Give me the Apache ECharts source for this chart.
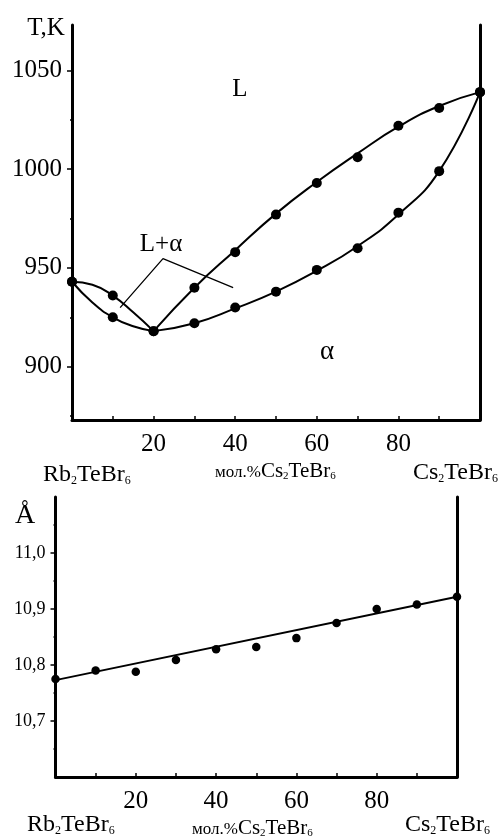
<!DOCTYPE html>
<html><head><meta charset="utf-8">
<script src="https://cdn.jsdelivr.net/npm/echarts@6/dist/echarts.min.js"></script>
<style>html,body{margin:0;padding:0;background:#fff}#c{width:500px;height:839px}</style>
</head><body><div id="c"></div>
<script>
// ---- data ----
const compositions = [0, 10, 20, 30, 40, 50, 60, 70, 80, 90, 100];
const liquidusT = [943, 936, 918, 940, 958, 977, 993, 1006, 1022, 1031, 1039];
const solidusT  = [943, 925, 918, 922, 930, 938, 949, 960, 978, 999, 1039];
// drawn curves
const curveLeftX  = [0, 5, 10, 15, 20];
const liqLeftT    = [943, 941.5, 936, 927.5, 918];
const solLeftT    = [943, 932.5, 925, 920.5, 918];
const curveRightX = [20, 30, 40, 50, 60, 70, 80, 90, 100];
const liqRightT   = [918, 940, 959, 977.5, 993.5, 1008, 1021.5, 1032, 1039];
const solRightT   = [918, 922, 929.5, 938, 948.5, 961, 977, 999, 1039];
// leader lines of the "L+α" label
const leaderX = [11.8, 22.3, 39.5];
const leaderT = [929.9, 954.7, 940];
// lattice parameter
const latticeA = [10.775, 10.790, 10.788, 10.809, 10.828, 10.832, 10.848, 10.875, 10.900, 10.908, 10.922];
const fitX = [0, 100];
const fitA = [10.773, 10.922];
// ticks
const xLabelTicks = [20, 40, 60, 80];
const tMajor = [900, 950, 1000, 1050];
const tMinor = [875, 925, 975, 1025];
const aMajor = [10.7, 10.8, 10.9, 11.0];
const aMinor = [10.65, 10.75, 10.85, 10.95, 11.05];

const FONT = "'Liberation Serif','Times New Roman',serif";
const zip = (xs, ys) => xs.map((x, i) => [x, ys[i]]);

const chart = echarts.init(document.getElementById('c'), null, {renderer: 'canvas'});

function xAxisCfg(gi) {
  return {
    type: 'value', gridIndex: gi, min: 0, max: 100, interval: 10,
    axisLine: {show: true, onZero: false, lineStyle: {color: '#000', width: 3}},
    axisTick: {show: true, inside: true, length: 4, lineStyle: {color: '#000', width: 1.5}},
    axisLabel: {customValues: xLabelTicks, color: '#000', fontFamily: FONT, fontSize: 25, margin: 12},
    splitLine: {show: false}
  };
}
function yAxisMajor(gi, min, max, vals, fmt, fs) {
  return {
    type: 'value', gridIndex: gi, min: min, max: max, position: 'left',
    axisLine: {show: true, lineStyle: {color: '#000', width: 3}},
    axisTick: {show: true, customValues: vals, length: 5, lineStyle: {color: '#000', width: 1.5}},
    axisLabel: {customValues: vals, formatter: fmt, color: '#000', fontFamily: FONT, fontSize: fs, margin: 10},
    splitLine: {show: false}
  };
}
function yAxisMinor(gi, min, max, vals) {
  return {
    type: 'value', gridIndex: gi, min: min, max: max, position: 'left',
    axisLine: {show: false},
    axisTick: {show: true, customValues: vals, length: 2, lineStyle: {color: '#000', width: 1.5}},
    axisLabel: {show: false}, splitLine: {show: false}
  };
}
function yAxisRight(gi, min, max) {
  return {
    type: 'value', gridIndex: gi, min: min, max: max, position: 'right',
    axisLine: {show: true, lineStyle: {color: '#000', width: 3}},
    axisTick: {show: false}, axisLabel: {show: false}, splitLine: {show: false}
  };
}

// rich text: token lineHeight chosen so the small tokens sit near the baseline
function lh(big, small, k) { return big - k * (big - small); }
function formula(x, y, pre, base, sizes, align) {
  const A = sizes.a, S = sizes.s, P = sizes.p || A;
  return {
    type: 'text', x: x, y: y, z: 10,
    style: {
      text: (pre ? '{p|' + pre + '}' : '') + '{a|' + base[0] + '}{s|2}{a|' + base[1] + '}{s|6}',
      align: align, verticalAlign: 'middle',
      rich: {
        p: {fontFamily: FONT, fontSize: P, fill: '#000', verticalAlign: 'bottom', lineHeight: lh(A, P, 0.6)},
        a: {fontFamily: FONT, fontSize: A, fill: '#000', verticalAlign: 'bottom', lineHeight: A},
        s: {fontFamily: FONT, fontSize: S, fill: '#000', verticalAlign: 'bottom', lineHeight: lh(A, S, 0.42)}
      }
    }
  };
}
function txt(x, y, t, fs) {
  return {type: 'text', x: x, y: y, z: 10,
    style: {text: t, fontFamily: FONT, fontSize: fs, fill: '#000', align: 'center', verticalAlign: 'middle'}};
}

const lineStyle = {color: '#000', width: 2};
const curve = (name, xs, ys) => ({
  name: name, type: 'line', xAxisIndex: 0, yAxisIndex: 0, data: zip(xs, ys),
  smooth: 0.5, showSymbol: false, symbol: 'none', lineStyle: lineStyle, z: 3
});
const dots = {color: '#000', opacity: 1};

const option = {
  backgroundColor: '#fff',
  animation: false,
  grid: [
    {left: 72, right: 20, top: 25, bottom: 419, outerBoundsMode: 'none', containLabel: false},
    {left: 55.5, right: 43, top: 497, bottom: 62, outerBoundsMode: 'none', containLabel: false}
  ],
  xAxis: [xAxisCfg(0), xAxisCfg(1)],
  yAxis: [
    yAxisMajor(0, 873, 1073, tMajor, v => String(v), 25),
    yAxisMinor(0, 873, 1073, tMinor),
    yAxisRight(0, 873, 1073),
    yAxisMajor(1, 10.6, 11.1, aMajor, v => v.toFixed(1).replace('.', ','), 18),
    yAxisMinor(1, 10.6, 11.1, aMinor),
    yAxisRight(1, 10.6, 11.1)
  ],
  series: [
    curve('liqLeft', curveLeftX, liqLeftT),
    curve('solLeft', curveLeftX, solLeftT),
    curve('liqRight', curveRightX, liqRightT),
    curve('solRight', curveRightX, solRightT),
    {name: 'leader', type: 'line', xAxisIndex: 0, yAxisIndex: 0, data: zip(leaderX, leaderT),
      showSymbol: false, symbol: 'none', lineStyle: {color: '#000', width: 1.3}, z: 3},
    {name: 'liquidus', type: 'scatter', xAxisIndex: 0, yAxisIndex: 0, data: zip(compositions, liquidusT),
      symbolSize: 10, itemStyle: dots, z: 5, clip: false},
    {name: 'solidus', type: 'scatter', xAxisIndex: 0, yAxisIndex: 0, data: zip(compositions, solidusT),
      symbolSize: 10, itemStyle: dots, z: 5, clip: false},
    {name: 'fit', type: 'line', xAxisIndex: 1, yAxisIndex: 3, data: zip(fitX, fitA),
      showSymbol: false, symbol: 'none', lineStyle: lineStyle, z: 3},
    {name: 'a', type: 'scatter', xAxisIndex: 1, yAxisIndex: 3, data: zip(compositions, latticeA),
      symbolSize: 8.5, itemStyle: dots, z: 5, clip: false}
  ],
  graphic: [
    txt(46, 28, 'T,K', 25),
    txt(240, 89, 'L', 25),
    txt(161, 244, 'L+α', 25),
    txt(327, 352, 'α', 27),
    txt(25, 516, 'Å', 28),
    formula(43, 475, '', ['Rb', 'TeBr'], {a: 24, s: 12}, 'left'),
    formula(215, 471, 'мол.%', ['Cs', 'TeBr'], {a: 21, s: 11, p: 17}, 'left'),
    formula(498, 473, '', ['Cs', 'TeBr'], {a: 24, s: 12}, 'right'),
    formula(27, 825, '', ['Rb', 'TeBr'], {a: 24, s: 12}, 'left'),
    formula(192, 828, 'мол.%', ['Cs', 'TeBr'], {a: 21, s: 11, p: 17}, 'left'),
    formula(490, 825, '', ['Cs', 'TeBr'], {a: 24, s: 12}, 'right')
  ]
};
chart.setOption(option);
</script></body></html>
